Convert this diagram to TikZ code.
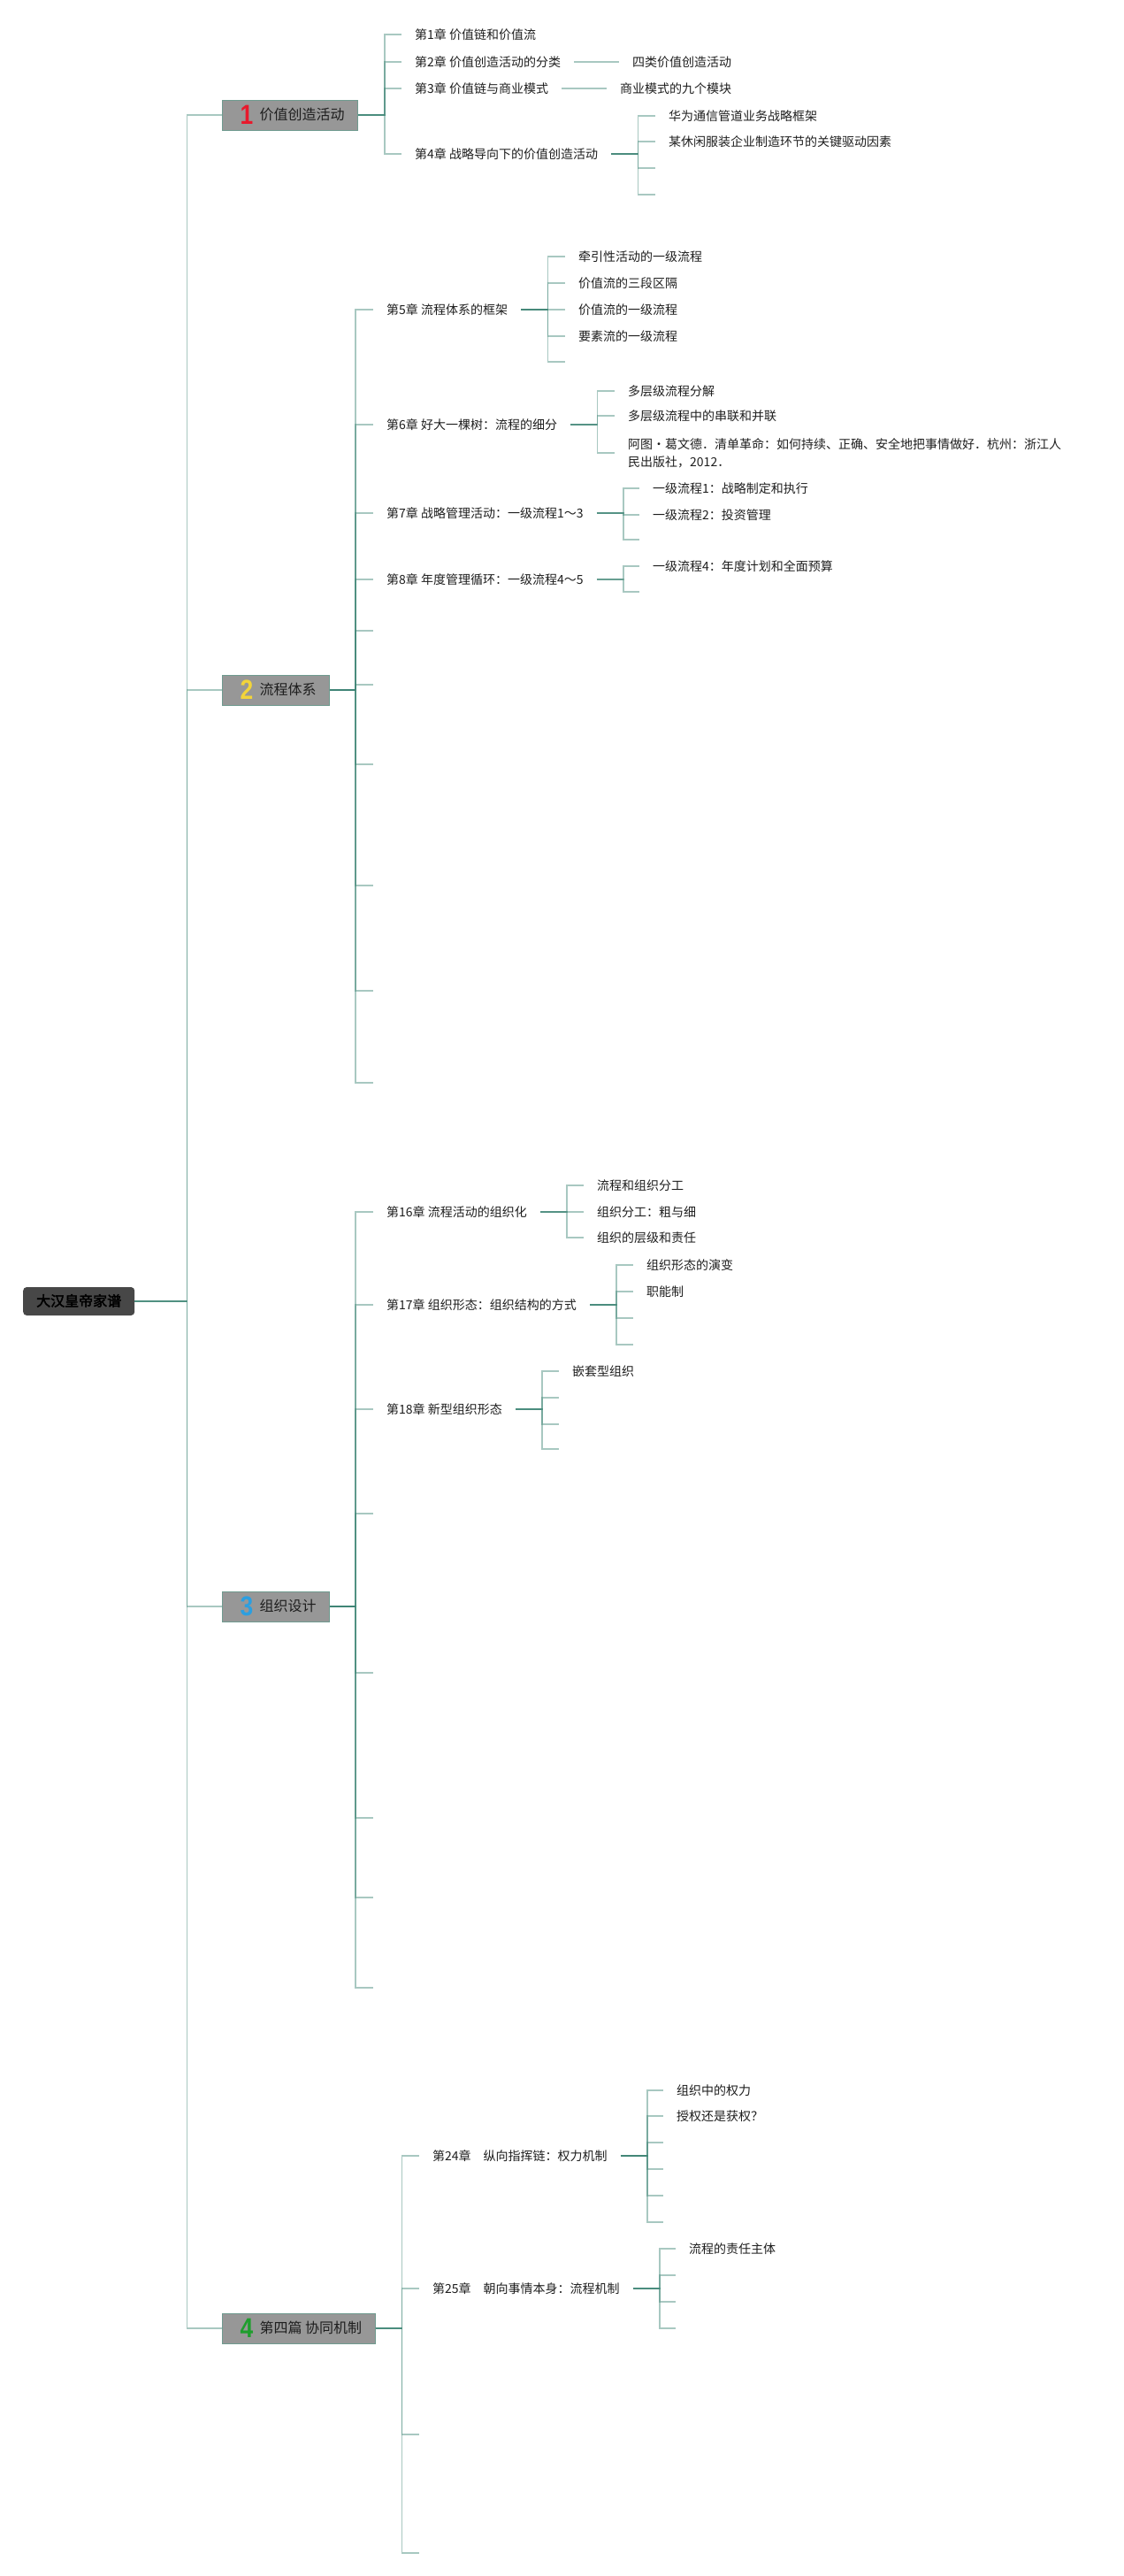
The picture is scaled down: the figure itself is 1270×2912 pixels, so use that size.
\documentclass[tikz,border=0pt]{standalone}
\usepackage{fontspec}
\newfontfamily\cjk{Noto Sans CJK SC}
\newfontfamily\cjkb[FakeBold=2.5]{Noto Sans CJK SC}
\newfontfamily\numfam{Liberation Sans}
\definecolor{lnk}{HTML}{3F8575}
\definecolor{txtc}{HTML}{1E1E1E}
\definecolor{secfill}{HTML}{979797}
\definecolor{secline}{HTML}{6F9A8F}
\definecolor{rootfill}{HTML}{474747}
\definecolor{nred}{HTML}{E8192C}
\definecolor{nyel}{HTML}{F2D43A}
\definecolor{nblue}{HTML}{2B9FE0}
\definecolor{ngreen}{HTML}{1F9E2E}
\newcommand\secnum[2]{\makebox[15pt]{\raisebox{-5pt}{\smash{\scalebox{0.85}[1]{\textcolor{#1}{\numfam\bfseries\fontsize{31}{31}\selectfont #2}}}}}}
\tikzset{
  conn/.style={draw=lnk, line width=1.5pt, draw opacity=0.45},
  hub/.style={draw=lnk, line width=2.6pt, draw opacity=0.3},
  txt/.style={font=\cjk\fontsize{14}{20}\selectfont, text=txtc, inner xsep=15pt, inner ysep=2pt, anchor=west, text height=12.2pt, text depth=1.6pt},
  txtml/.style={font=\cjk\fontsize{14}{20}\selectfont, text=txtc, inner xsep=15pt, inner ysep=2pt, anchor=west, align=left},
  secbox/.style={fill=secfill, draw=secline, line width=1pt, inner xsep=0pt, inner ysep=0pt, minimum height=34pt, anchor=west, font=\cjk\fontsize{16}{20}\selectfont, text=txtc, text height=13.5pt, text depth=2.5pt},
  rootbox/.style={fill=rootfill, rounded corners=4pt, inner xsep=15pt, inner ysep=0pt, minimum height=32pt, anchor=west, font=\cjkb\fontsize{16}{20}\selectfont, text=black, text height=13.5pt, text depth=2.5pt}
}
\begin{document}
\begin{tikzpicture}[x=1pt,y=-1pt]
\useasboundingbox (0,0) rectangle (1270,2912);
% root
\node[rootbox] (r) at (26,1471) {大汉皇帝家谱};
% sections
\node[secbox] (s1) at (251,130) {\hspace*{20pt}\secnum{nred}{1}\hspace*{7pt}价值创造活动\hspace*{15pt}};
\node[secbox] (s2) at (251,780) {\hspace*{20pt}\secnum{nyel}{2}\hspace*{7pt}流程体系\hspace*{15pt}};
\node[secbox] (s3) at (251,1816) {\hspace*{20pt}\secnum{nblue}{3}\hspace*{7pt}组织设计\hspace*{15pt}};
\node[secbox] (s4) at (251,2632) {\hspace*{20pt}\secnum{ngreen}{4}\hspace*{7pt}第四篇 协同机制\hspace*{15pt}};
% section 1
\node[txt] (c1) at (454,39) {第1章 价值链和价值流};
\node[txt] (c2) at (454,70) {第2章 价值创造活动的分类};
\node[txt] (c2a) at (700,70) {四类价值创造活动};
\node[txt] (c3) at (454,100) {第3章 价值链与商业模式};
\node[txt] (c3a) at (686,100) {商业模式的九个模块};
\node[txt] (c4) at (454,174) {第4章 战略导向下的价值创造活动};
\node[txt] (c4a) at (741,131) {华为通信管道业务战略框架};
\node[txt] (c4b) at (741,160) {某休闲服装企业制造环节的关键驱动因素};
\coordinate (e4c) at (741,190);
\coordinate (e4d) at (741,220);
% section 2
\node[txt] (c5) at (422,350) {第5章 流程体系的框架};
\node[txt] (c5a) at (639,290) {牵引性活动的一级流程};
\node[txt] (c5b) at (639,320) {价值流的三段区隔};
\node[txt] (c5c) at (639,350) {价值流的一级流程};
\node[txt] (c5d) at (639,380) {要素流的一级流程};
\coordinate (e5e) at (639,409);
\node[txt] (c6) at (422,480) {第6章 好大一棵树：流程的细分};
\node[txt] (c6a) at (695,442) {多层级流程分解};
\node[txt] (c6b) at (695,470) {多层级流程中的串联和并联};
\node[txtml] (c6c) at (695,512) {阿图·葛文德．清单革命：如何持续、正确、安全地把事情做好．杭州：浙江人\\民出版社，2012．};
\node[txt] (c7) at (422,580) {第7章 战略管理活动：一级流程1～3};
\node[txt] (c7a) at (723,552) {一级流程1：战略制定和执行};
\node[txt] (c7b) at (723,582) {一级流程2：投资管理};
\coordinate (e7c) at (723,610);
\node[txt] (c8) at (422,655) {第8章 年度管理循环：一级流程4～5};
\node[txt] (c8a) at (723,640) {一级流程4：年度计划和全面预算};
\coordinate (e8b) at (723,669);
\coordinate (e2a) at (422,713);
\coordinate (e2b) at (422,774);
\coordinate (e2c) at (422,864);
\coordinate (e2d) at (422,1001);
\coordinate (e2e) at (422,1120);
\coordinate (e2f) at (422,1224);
% section 3
\node[txt] (c16) at (422,1370) {第16章 流程活动的组织化};
\node[txt] (c16a) at (660,1340) {流程和组织分工};
\node[txt] (c16b) at (660,1370) {组织分工：粗与细};
\node[txt] (c16c) at (660,1399) {组织的层级和责任};
\node[txt] (c17) at (422,1475) {第17章 组织形态：组织结构的方式};
\node[txt] (c17a) at (716,1430) {组织形态的演变};
\node[txt] (c17b) at (716,1460) {职能制};
\coordinate (e17c) at (716,1490);
\coordinate (e17d) at (716,1520);
\node[txt] (c18) at (422,1593) {第18章 新型组织形态};
\node[txt] (c18a) at (632,1550) {嵌套型组织};
\coordinate (e18b) at (632,1580);
\coordinate (e18c) at (632,1610);
\coordinate (e18d) at (632,1638);
\coordinate (e3a) at (422,1711);
\coordinate (e3b) at (422,1891);
\coordinate (e3c) at (422,2055);
\coordinate (e3d) at (422,2145);
\coordinate (e3e) at (422,2247);
% section 4
\node[txt] (c24) at (474,2437) {第24章　纵向指挥链：权力机制};
\node[txt] (c24a) at (750,2363) {组织中的权力};
\node[txt] (c24b) at (750,2392) {授权还是获权？};
\coordinate (e24c) at (750,2422);
\coordinate (e24d) at (750,2452);
\coordinate (e24e) at (750,2482);
\coordinate (e24f) at (750,2512);
\node[txt] (c25) at (474,2587) {第25章　朝向事情本身：流程机制};
\node[txt] (c25a) at (764,2542) {流程的责任主体};
\coordinate (e25b) at (764,2572);
\coordinate (e25c) at (764,2602);
\coordinate (e25d) at (764,2632);
\coordinate (e4a) at (474,2752);
\coordinate (e4b) at (474,2886);
% connectors
\foreach \c in {s1,s2,s3,s4} \draw[conn] (r.east) -- ++(59,0) |- (\c);
\foreach \c in {c1,c2,c3,c4} \draw[conn] (s1.east) -- ++(30,0) |- (\c);
\draw[conn] (c2.east) -- (c2a);
\draw[conn] (c3.east) -- (c3a);
\foreach \c in {c4a,c4b,e4c,e4d} \draw[conn] (c4.east) -- ++(30,0) |- (\c);
\foreach \c in {c5,c6,c7,c8,e2a,e2b,e2c,e2d,e2e,e2f} \draw[conn] (s2.east) -- ++(29,0) |- (\c);
\foreach \c in {c5a,c5b,c5c,c5d,e5e} \draw[conn] (c5.east) -- ++(30,0) |- (\c);
\foreach \c in {c6a,c6b,c6c} \draw[conn] (c6.east) -- ++(30,0) |- (\c);
\foreach \c in {c7a,c7b,e7c} \draw[conn] (c7.east) -- ++(30,0) |- (\c);
\foreach \c in {c8a,e8b} \draw[conn] (c8.east) -- ++(30,0) |- (\c);
\foreach \c in {c16,c17,c18,e3a,e3b,e3c,e3d,e3e} \draw[conn] (s3.east) -- ++(29,0) |- (\c);
\foreach \c in {c16a,c16b,c16c} \draw[conn] (c16.east) -- ++(30,0) |- (\c);
\foreach \c in {c17a,c17b,e17c,e17d} \draw[conn] (c17.east) -- ++(30,0) |- (\c);
\foreach \c in {c18a,e18b,e18c,e18d} \draw[conn] (c18.east) -- ++(30,0) |- (\c);
\foreach \c in {c24,c25,e4a,e4b} \draw[conn] (s4.east) -- ++(30,0) |- (\c);
\foreach \c in {c24a,c24b,e24c,e24d,e24e,e24f} \draw[conn] (c24.east) -- ++(30,0) |- (\c);
\foreach \c in {c25a,e25b,e25c,e25d} \draw[conn] (c25.east) -- ++(30,0) |- (\c);
% thicker hub stubs next to parents
\foreach \p in {s1,c4,c5,c6,c7,c8,c16,c17,c18,s4,c24,c25} \draw[hub] (\p.east) -- ++(30,0);
\foreach \p in {s2,s3} \draw[hub] (\p.east) -- ++(29,0);
\end{tikzpicture}
\end{document}
